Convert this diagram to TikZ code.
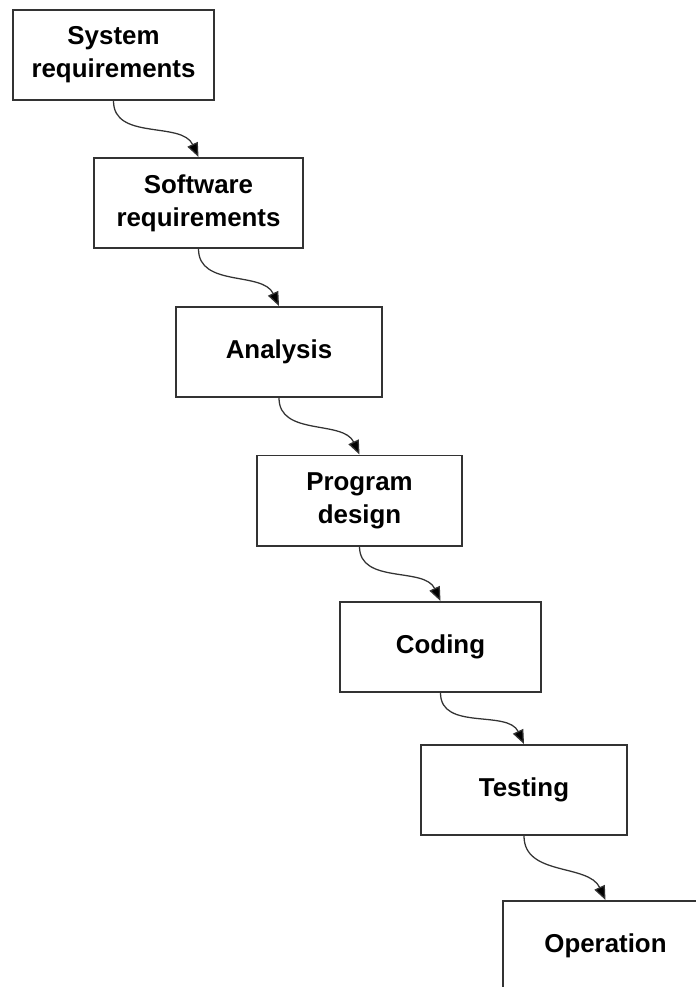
\documentclass[tikz,border=0pt]{standalone}
\usepackage{fontspec}
\setmainfont{Liberation Sans}
\usetikzlibrary{arrows.meta}

\begin{document}
\begin{tikzpicture}[x=0.025cm,y=0.025cm,
	stage/.style={draw=black!80,line width=1.4pt,align=center,inner sep=0pt,minimum height=2.25cm,font=\fontsize{18.4}{23.5}\selectfont\bfseries},
	flow/.style={draw=black!80,line width=0.9pt,-{Triangle[length=10pt,width=8pt,fill=black]}}]
\useasboundingbox (0,0) rectangle (696,-987);
\clip (0,0) rectangle (696,-987);
% the stages, one below the other
\foreach \n/\x/\y/\w/\t in {sys/113.5/55/5.025/{System\\requirements}, soft/198.5/203/5.225/{Software\\requirements}, ana/279/352/5.15/Analysis, prog/359.5/500.5/5.125/{Program\\design}, code/440.5/647/5.025/Coding, test/524/790/5.15/Testing, oper/605.5/946/5.125/Operation} {
	\node[stage,minimum width=\w cm] (\n) at (\x,-\y) {\t};
}
\foreach \a/\b in {sys/soft,soft/ana,ana/prog,prog/code,code/test,test/oper} {
	\draw[flow] (\a.south) to[out=-90,in=115] (\b.north);
}
\end{tikzpicture}
\end{document}
